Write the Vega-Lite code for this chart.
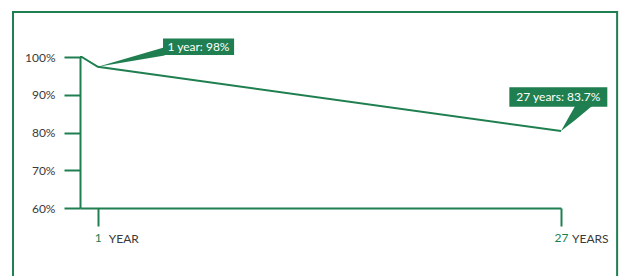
{
  "$schema": "https://vega.github.io/schema/vega-lite/v6.json",
  "width": 481,
  "height": 151,
  "autosize": "none",
  "padding": {"left": 80, "top": 57, "right": 58, "bottom": 68},
  "background": "white",
  "config": {
    "view": {"stroke": null},
    "font": "Lato",
    "axis": {"grid": false, "domainColor": "#1f7f50", "tickColor": "#1f7f50", "domainWidth": 2, "tickWidth": 2, "labelFont": "Lato", "titleFont": "Lato", "labelFontWeight": "normal", "labelOverlap": false}
  },
  "datasets": {
    "series": [
      {"x": 0, "y": 100},
      {"x": 0.1, "y": 100},
      {"x": 1, "y": 97.4},
      {"x": 27, "y": 80.4}
    ],
    "boxes": [
      {"x": 4.66, "x2": 8.65, "y": 104.9, "y2": 100.5},
      {"x": 24.1, "x2": 29.6, "y": 92.0, "y2": 86.8}
    ],
    "labels": [
      {"x": 6.65, "y": 102.7, "label": "1 year:  98%"},
      {"x": 26.85, "y": 89.4, "label": "27 years: 83.7%"}
    ],
    "pointers": [
      {"g": "a", "x": 1, "y": 97.4, "y2": 97.4},
      {"g": "a", "x": 4.75, "y": 102.6, "y2": 100.4},
      {"g": "b", "x": 27, "y": 80.4, "y2": 80.4},
      {"g": "b", "x": 27.8, "y": 87.1, "y2": 83.3},
      {"g": "b", "x": 28.76, "y": 87.1, "y2": 87.1}
    ],
    "frame": [
      {"x": -3.76, "x2": 30.15, "y": 111.9, "y2": 38.3}
    ],
    "words": [
      {"x": 1, "y": 60, "word": "YEAR"},
      {"x": 27, "y": 60, "word": "YEARS"}
    ]
  },
  "encoding": {
    "x": {
      "field": "x", "type": "quantitative",
      "scale": {"domain": [0, 27], "nice": false, "zero": false},
      "axis": {"values": [1, 27], "title": null, "tickSize": 18, "labelColor": "#1f7f50", "labelFontSize": 12, "labelPadding": 6, "labelFlush": false}
    },
    "y": {
      "field": "y", "type": "quantitative",
      "scale": {"domain": [60, 100], "nice": false, "zero": false},
      "axis": {"values": [60, 70, 80, 90, 100], "title": null, "tickSize": 16, "labelPadding": 9, "labelColor": "#3a3a3a", "labelFontSize": 12, "labelExpr": "datum.value + '%'"}
    }
  },
  "layer": [
    {
      "data": {"name": "series"},
      "mark": {"type": "line", "color": "#1f7f50", "strokeWidth": 2}
    },
    {
      "data": {"name": "frame"},
      "mark": {"type": "rect", "fill": null, "stroke": "#1f7f50", "strokeWidth": 2},
      "encoding": {
        "x2": {"field": "x2"},
        "y2": {"field": "y2"}
      }
    },
    {
      "data": {"name": "pointers"},
      "mark": {"type": "area", "color": "#1f7f50", "opacity": 1},
      "encoding": {
        "y2": {"field": "y2"},
        "detail": {"field": "g"}
      }
    },
    {
      "data": {"name": "boxes"},
      "mark": {"type": "rect", "color": "#1f7f50"},
      "encoding": {
        "x2": {"field": "x2"},
        "y2": {"field": "y2"}
      }
    },
    {
      "data": {"name": "labels"},
      "mark": {"type": "text", "color": "white", "fontSize": 12, "fontWeight": "normal", "baseline": "middle", "align": "center"},
      "encoding": {
        "text": {"field": "label"}
      }
    },
    {
      "data": {"name": "words"},
      "mark": {"type": "text", "color": "#3a3a3a", "fontSize": 12, "fontWeight": "normal", "baseline": "middle", "align": "left", "dx": 11, "dy": 31},
      "encoding": {
        "text": {"field": "word"}
      }
    }
  ]
}
